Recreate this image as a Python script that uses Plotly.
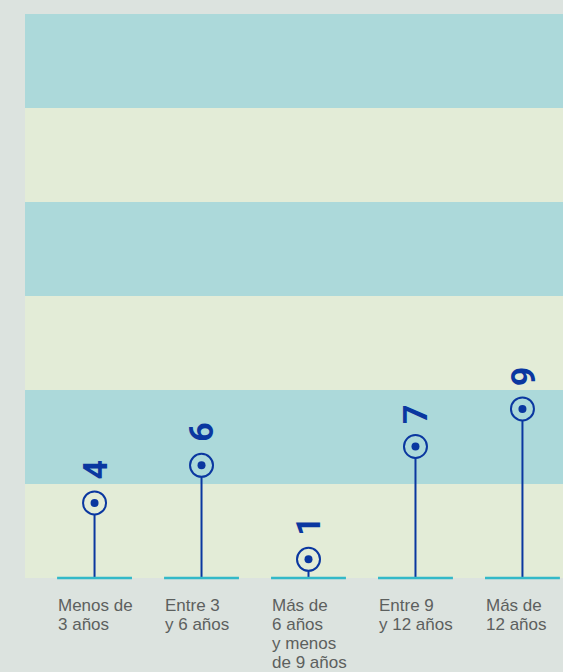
import plotly.graph_objects as go

# Age groups and counts
categories = ["Menos de<br>3 años", "Entre 3<br>y 6 años", "Más de<br>6 años<br>y menos<br>de 9 años",
              "Entre 9<br>y 12 años", "Más de<br>12 años"]
values = [4, 6, 1, 7, 9]

y_max = 30
band_step = 5

PAPER = "#dce3df"
TEAL_BAND = "#acd9da"
GREEN_BAND = "#e3ecd7"
BLUE = "#0a37a0"
BASE = "#33b9c8"
LABEL = "#5c605e"

xs = list(range(len(categories)))
half = 0.35  # half width of the baseline segment under each category


def band_color(v):
    return GREEN_BAND if int(v // band_step) % 2 == 0 else TEAL_BAND


fig = go.Figure()

# stems from the baseline up to each value
stem_x, stem_y = [], []
for x, v in zip(xs, values):
    stem_x += [x, x, None]
    stem_y += [0, v, None]
fig.add_trace(go.Scatter(x=stem_x, y=stem_y, mode="lines",
                         line=dict(color=BLUE, width=2), hoverinfo="skip"))

# ring markers, filled with the colour of the band they sit in
fig.add_trace(go.Scatter(x=xs, y=values, mode="markers",
                         marker=dict(size=23, color=[band_color(v) for v in values],
                                     line=dict(color=BLUE, width=2)),
                         hoverinfo="skip"))
# centre dots
fig.add_trace(go.Scatter(x=xs, y=values, mode="markers",
                         marker=dict(size=8, color=BLUE), hoverinfo="skip"))

shapes = []
# alternating horizontal bands
for k in range(y_max // band_step):
    shapes.append(dict(type="rect", xref="paper", yref="y", x0=0, x1=1,
                       y0=k * band_step, y1=(k + 1) * band_step,
                       fillcolor=GREEN_BAND if k % 2 == 0 else TEAL_BAND,
                       line=dict(width=0), layer="below"))
# baseline segment under each category
for x in xs:
    shapes.append(dict(type="line", xref="x", yref="y", x0=x - half, x1=x + half,
                       y0=0, y1=0, line=dict(color=BASE, width=2.5)))

annotations = []
# value labels, rotated
for x, v in zip(xs, values):
    annotations.append(dict(x=x, y=v, xref="x", yref="y", text=f"<b>{v}</b>",
                            showarrow=False, textangle=-90, yanchor="middle",
                            yshift=33, font=dict(family="Roboto", size=34, color=BLUE)))
# category labels, left aligned under each segment, one annotation per line
for x, c in zip(xs, categories):
    for i, line in enumerate(c.split("<br>")):
        annotations.append(dict(x=x - half, y=0, xref="x", yref="y", text=line,
                                showarrow=False, xanchor="left", yanchor="middle",
                                yshift=-(27 + 19 * i), borderpad=0,
                                font=dict(family="Liberation Sans", size=17, color=LABEL)))

fig.update_layout(
    width=563, height=672,
    margin=dict(l=25, r=0, t=14, b=92),
    paper_bgcolor=PAPER, plot_bgcolor=PAPER,
    showlegend=False,
    shapes=shapes, annotations=annotations,
    xaxis=dict(range=[-0.65, 4.379], showgrid=False, zeroline=False,
               showticklabels=False, fixedrange=True),
    yaxis=dict(range=[-0.1, y_max], showgrid=False, zeroline=False,
               showticklabels=False, fixedrange=True),
)

fig.write_html("out.html")
